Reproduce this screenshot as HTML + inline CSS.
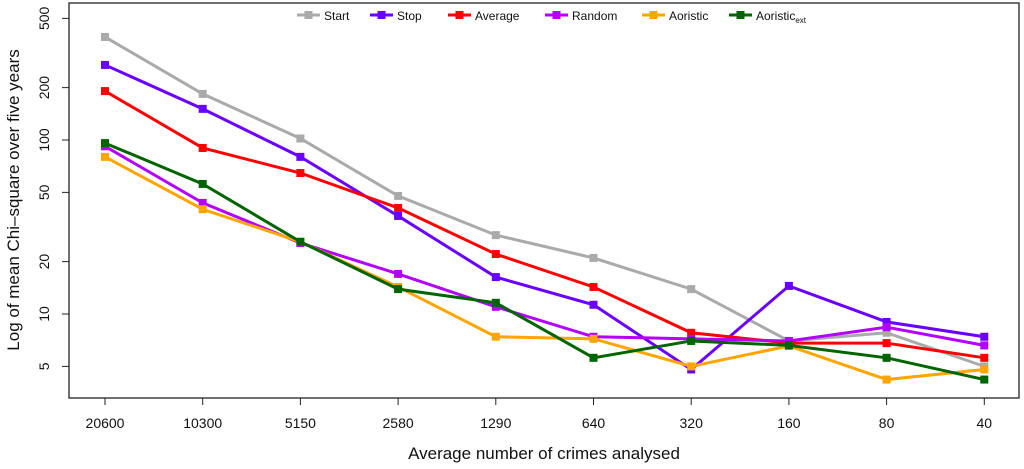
<!DOCTYPE html>
<html><head><meta charset="utf-8"><style>
body{margin:0;background:#fff;}
svg{display:block;font-family:"Liberation Sans",sans-serif;}
</style></head><body>
<svg id="chart" width="1024" height="469"></svg>
<script>
const categories=["20600","10300","5150","2580","1290","640","320","160","80","40"];
const yTicks=[5,10,20,50,100,200,500];
const startVals=[391,184,102,47.7,28.4,21,13.9,7.0,7.8,5.0];
const stopVals=[270,151,80,36.6,16.3,11.3,4.8,14.5,9.0,7.4];
const averageVals=[191,90,64.6,40.7,22.1,14.3,7.8,6.8,6.8,5.6];
const randomVals=[92,43.5,25.6,17,11,7.4,7.2,7.0,8.4,6.6];
const aoristicVals=[80,40,26,14.3,7.4,7.2,5.0,6.55,4.2,4.8];
const aoristicExtVals=[96,55.9,26,13.9,11.6,5.6,7.0,6.6,5.6,4.2];
const seriesNames=["Start","Stop","Average","Random","Aoristic","Aoristic_ext"];
const seriesColors=["#aaaaaa","#6a00ff","#ff0000","#b400ff","#ffa500","#006400"];
const seriesData=[startVals,stopVals,averageVals,randomVals,aoristicVals,aoristicExtVals];

const NS="http://www.w3.org/2000/svg";
const svg=document.getElementById('chart');
function el(t,a,p){const e=document.createElementNS(NS,t);for(const k in a)e.setAttribute(k,a[k]);(p||svg).appendChild(e);return e;}
const xScale=i=>105+i*97.7;
const yScale=v=>314-174*Math.log10(v/10);

let box=el('rect',{x:69,y:3,width:950,height:395,fill:'none',stroke:'#222','stroke-width':1.3});



categories.forEach((c,i)=>{
  const x=xScale(i);
  let t=el('line',{x1:x,x2:x,y1:398,y2:405,stroke:'#222','stroke-width':1});
  
  
  let l=el('text',{x:x,y:428,'font-size':14,'text-anchor':'middle',fill:'#111'});
  l.textContent=c;
  
  
});
yTicks.forEach(v=>{
  const y=yScale(v);
  let t=el('line',{x1:62,x2:69,y1:y,y2:y,stroke:'#222','stroke-width':1});
  
  
  let l=el('text',{x:0,y:0,'font-size':14,'text-anchor':'middle',fill:'#111',transform:`translate(49,${y}) rotate(-90)`});
  l.textContent=v;
  
  
});
let xt=el('text',{x:544,y:459,'font-size':17,'text-anchor':'middle',fill:'#111'});
xt.textContent='Average number of crimes analysed';


let yt=el('text',{x:0,y:0,'font-size':17,'text-anchor':'middle',fill:'#111',transform:'translate(19,200) rotate(-90)'});
yt.textContent='Log of mean Chi\u2013square over five years';



seriesData.forEach((vals,s)=>{
  const g=el('g',{});
  
  
  const pts=vals.map((v,i)=>xScale(i)+','+yScale(v)).join(' ');
  el('polyline',{points:pts,fill:'none',stroke:seriesColors[s],'stroke-width':3},g);
  vals.forEach((v,i)=>{
    const r=el('rect',{x:xScale(i)-4,y:yScale(v)-4,width:8,height:8,fill:seriesColors[s]},g);
    
    
  });
});

const legX=[297,370,448,545,642,729];
seriesNames.forEach((n,s)=>{
  const g=el('g',{});
  
  
  const x=legX[s];
  el('line',{x1:x,x2:x+23,y1:15,y2:15,stroke:seriesColors[s],'stroke-width':3},g);
  el('rect',{x:x+7.5,y:11,width:8,height:8,fill:seriesColors[s]},g);
  const t=el('text',{x:x+27,y:20,'font-size':12,fill:'#111'},g);
  if(n==='Aoristic_ext'){
    t.textContent='Aoristic';
    const sub=el('tspan',{'font-size':8,dy:3},t);
    sub.textContent='ext';
  } else t.textContent=n;
});
</script>
</body></html>
